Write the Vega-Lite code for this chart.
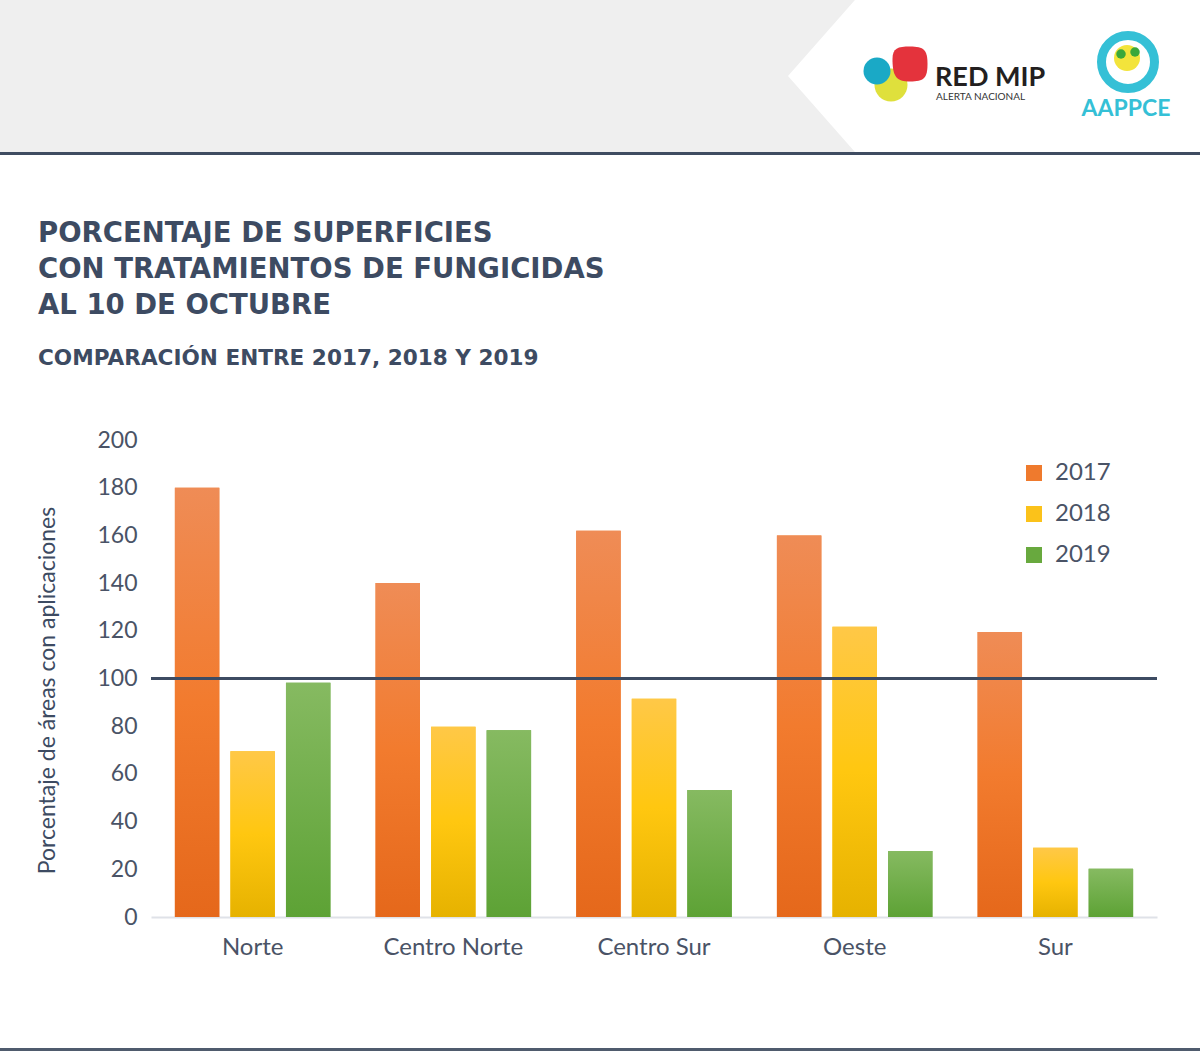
{
  "$schema": "https://vega.github.io/schema/vega-lite/v6.json",
  "width": 1006,
  "height": 477,
  "autosize": {"type": "none"},
  "padding": {"left": 151, "top": 440, "right": 43, "bottom": 137},
  "background": "#ffffff",
  "config": {
    "font": "Lato",
    "view": {"stroke": null},
    "legend": {
      "orient": "none", "legendX": 871, "legendY": 21, "padding": 0,
      "symbolType": "square", "symbolSize": 256, "symbolStrokeWidth": 0,
      "labelFontSize": 24, "labelColor": "#4a5366", "labelFont": "Lato",
      "rowPadding": 17, "labelOffset": 9
    }
  },
  "title": {
    "text": ["PORCENTAJE DE SUPERFICIES", "CON TRATAMIENTOS DE FUNGICIDAS", "AL 10 DE OCTUBRE"],
    "subtitle": "COMPARACIÓN ENTRE 2017, 2018 Y 2019",
    "anchor": "start", "frame": "group", "dx": -113, "dy": 434,
    "font": "DejaVu Sans", "fontSize": 27.5, "fontWeight": "bold", "color": "#3d4b62", "lineHeight": 36,
    "subtitleFont": "DejaVu Sans", "subtitleFontSize": 21.6, "subtitleFontWeight": "bold", "subtitleColor": "#3d4b62",
    "subtitlePadding": 29, "offset": 64
  },
  "resolve": {"scale": {"x": "independent", "y": "independent"}},
  "layer": [
    {
      "data": {"values": [{"k": "banda"}]},
      "mark": {"type": "rect", "color": "#efefef"},
      "encoding": {
        "x": {"field": "k", "type": "nominal", "axis": null, "scale": {"range": [-151, 1049], "paddingInner": 0, "paddingOuter": 0}},
        "y": {"field": "k", "type": "nominal", "axis": null, "scale": {"range": [-440, -288], "paddingInner": 0, "paddingOuter": 0}}
      }
    },
    {
      "data": {"values": [{"k": "chevron"}]},
      "mark": {"type": "point", "filled": true, "color": "#ffffff", "opacity": 1, "strokeWidth": 0, "size": 169744,
               "shape": "M -1 0 L -0.675 -0.369 L 1 -0.369 L 1 0.369 L -0.675 0.369 Z"},
      "encoding": {
        "x": {"field": "k", "type": "nominal", "axis": null, "scale": {"range": [843, 843]}},
        "y": {"field": "k", "type": "nominal", "axis": null, "scale": {"range": [-364, -364]}}
      }
    },
    {
      "data": {"values": [{"k": "linea superior"}]},
      "mark": {"type": "rect", "color": "#3f4c61"},
      "encoding": {
        "x": {"field": "k", "type": "nominal", "axis": null, "scale": {"range": [-151, 1049], "paddingInner": 0, "paddingOuter": 0}},
        "y": {"field": "k", "type": "nominal", "axis": null, "scale": {"range": [-288, -285], "paddingInner": 0, "paddingOuter": 0}}
      }
    },
    {
      "data": {"values": [{"k": "linea inferior"}]},
      "mark": {"type": "rect", "color": "#4f5b6d"},
      "encoding": {
        "x": {"field": "k", "type": "nominal", "axis": null, "scale": {"range": [-151, 1049], "paddingInner": 0, "paddingOuter": 0}},
        "y": {"field": "k", "type": "nominal", "axis": null, "scale": {"range": [608, 611], "paddingInner": 0, "paddingOuter": 0}}
      }
    },
    {
      "data": {"values": [{"k": "amarillo"}]},
      "mark": {"type": "point", "shape": "circle", "filled": true, "opacity": 1, "color": "#dfe03c", "size": 1089},
      "encoding": {
        "x": {"field": "k", "type": "nominal", "axis": null, "scale": {"range": [740, 740]}},
        "y": {"field": "k", "type": "nominal", "axis": null, "scale": {"range": [-355, -355]}}
      }
    },
    {
      "data": {"values": [{"k": "rojo"}]},
      "mark": {"type": "point", "shape": "M -1 -0.3 C -1 -0.9 -0.7 -1 0 -1 C 0.8 -1 1 -0.8 1 0 C 1 0.8 0.8 1 0 1 C -0.8 1 -1 0.7 -1 -0.3 Z", "filled": true, "opacity": 1, "color": "#e4333c", "size": 1225},
      "encoding": {
        "x": {"field": "k", "type": "nominal", "axis": null, "scale": {"range": [759, 759]}},
        "y": {"field": "k", "type": "nominal", "axis": null, "scale": {"range": [-376, -376]}}
      }
    },
    {
      "data": {"values": [{"k": "azul"}]},
      "mark": {"type": "point", "shape": "circle", "filled": true, "opacity": 1, "color": "#1aa9c6", "size": 729},
      "encoding": {
        "x": {"field": "k", "type": "nominal", "axis": null, "scale": {"range": [726, 726]}},
        "y": {"field": "k", "type": "nominal", "axis": null, "scale": {"range": [-369, -369]}}
      }
    },
    {
      "data": {"values": [{"k": "RED MIP"}]},
      "mark": {"type": "text", "align": "left", "baseline": "alphabetic", "font": "Lato", "fontSize": 27, "fontWeight": "bold", "color": "#231f20"},
      "encoding": {
        "text": {"field": "k"},
        "x": {"field": "k", "type": "nominal", "axis": null, "scale": {"range": [784, 784]}},
        "y": {"field": "k", "type": "nominal", "axis": null, "scale": {"range": [-354, -354]}}
      }
    },
    {
      "data": {"values": [{"k": "ALERTA NACIONAL"}]},
      "mark": {"type": "text", "align": "left", "baseline": "alphabetic", "font": "Lato", "fontSize": 10, "color": "#333333"},
      "encoding": {
        "text": {"field": "k"},
        "x": {"field": "k", "type": "nominal", "axis": null, "scale": {"range": [785, 785]}},
        "y": {"field": "k", "type": "nominal", "axis": null, "scale": {"range": [-340, -340]}}
      }
    },
    {
      "data": {"values": [{"k": "aro"}]},
      "mark": {"type": "point", "shape": "circle", "filled": false, "opacity": 1, "fill": "#ffffff", "stroke": "#35c0d6", "strokeWidth": 9, "size": 2809},
      "encoding": {
        "x": {"field": "k", "type": "nominal", "axis": null, "scale": {"range": [977, 977]}},
        "y": {"field": "k", "type": "nominal", "axis": null, "scale": {"range": [-378, -378]}}
      }
    },
    {
      "data": {"values": [{"k": "sol"}]},
      "mark": {"type": "point", "shape": "circle", "filled": true, "opacity": 1, "color": "#f3e43b", "size": 676},
      "encoding": {
        "x": {"field": "k", "type": "nominal", "axis": null, "scale": {"range": [976, 976]}},
        "y": {"field": "k", "type": "nominal", "axis": null, "scale": {"range": [-382, -382]}}
      }
    },
    {
      "data": {"values": [{"k": "hoja izq"}, {"k": "hoja der"}]},
      "mark": {"type": "point", "shape": "circle", "filled": true, "opacity": 1, "color": "#3aa83a", "size": 90},
      "encoding": {
        "x": {"field": "k", "type": "nominal", "axis": null, "scale": {"range": [970, 984], "padding": 0}},
        "y": {"field": "k", "type": "nominal", "axis": null, "scale": {"range": [-386, -388], "padding": 0}}
      }
    },
    {
      "data": {"values": [{"k": "AAPPCE"}]},
      "mark": {"type": "text", "align": "center", "baseline": "alphabetic", "font": "Lato", "fontSize": 23, "fontWeight": "bold", "color": "#35c0d6"},
      "encoding": {
        "text": {"field": "k"},
        "x": {"field": "k", "type": "nominal", "axis": null, "scale": {"range": [975, 975]}},
        "y": {"field": "k", "type": "nominal", "axis": null, "scale": {"range": [-324, -324]}}
      }
    },
    {
      "data": {"values": [
        {"region": "Norte", "year": "2017", "value": 180},
        {"region": "Norte", "year": "2018", "value": 69.5},
        {"region": "Norte", "year": "2019", "value": 98.2},
        {"region": "Centro Norte", "year": "2017", "value": 140},
        {"region": "Centro Norte", "year": "2018", "value": 79.8},
        {"region": "Centro Norte", "year": "2019", "value": 78.3},
        {"region": "Centro Sur", "year": "2017", "value": 162},
        {"region": "Centro Sur", "year": "2018", "value": 91.5},
        {"region": "Centro Sur", "year": "2019", "value": 53.3},
        {"region": "Oeste", "year": "2017", "value": 160},
        {"region": "Oeste", "year": "2018", "value": 121.7},
        {"region": "Oeste", "year": "2019", "value": 27.7},
        {"region": "Sur", "year": "2017", "value": 119.5},
        {"region": "Sur", "year": "2018", "value": 29},
        {"region": "Sur", "year": "2019", "value": 20.2}
      ]},
      "encoding": {
        "x": {"field": "region", "type": "nominal",
              "scale": {"domain": ["Norte", "Centro Norte", "Centro Sur", "Oeste", "Sur"], "paddingInner": 0.225, "paddingOuter": 0.119},
              "axis": {"title": null, "labelAngle": 0, "labelFontSize": 24, "labelColor": "#4a5366", "labelFont": "Lato",
                       "labelPadding": 18, "ticks": false, "domainColor": "#dfe2e8", "domainWidth": 2}},
        "y": {"field": "value", "type": "quantitative",
              "scale": {"domain": [0, 200], "nice": false},
              "axis": {"title": "Porcentaje de áreas con aplicaciones", "titleFontSize": 23, "titleFontWeight": "normal",
                       "titleColor": "#3d4b62", "titleFont": "Lato", "titlePadding": 37, "titleY": 250,
                       "values": [0, 20, 40, 60, 80, 100, 120, 140, 160, 180, 200],
                       "labelFontSize": 23, "labelColor": "#4a5366", "labelFont": "Lato", "labelPadding": 14,
                       "ticks": false, "domain": false, "gridColor": "#dfe2e8", "gridWidth": 2}},
        "xOffset": {"field": "year", "type": "nominal", "scale": {"domain": ["2017", "2018", "2019"], "paddingInner": 0.2, "paddingOuter": 0}}
      },
      "layer": [
        {
          "mark": {"type": "bar"},
          "encoding": {
            "color": {"field": "year", "type": "nominal", "title": null,
                      "scale": {"domain": ["2017", "2018", "2019"], "range": ["#ef7a2d", "#fbc21a", "#68a93e"]}}
          }
        },
        {
          "transform": [{"filter": {"field": "year", "equal": "2017"}}],
          "mark": {"type": "bar", "color": {"gradient": "linear", "x1": 0, "y1": 0, "x2": 0, "y2": 1,
                   "stops": [{"offset": 0, "color": "#ef8c56"}, {"offset": 0.5, "color": "#f27b2e"}, {"offset": 1, "color": "#e5681b"}]}}
        },
        {
          "transform": [{"filter": {"field": "year", "equal": "2018"}}],
          "mark": {"type": "bar", "color": {"gradient": "linear", "x1": 0, "y1": 0, "x2": 0, "y2": 1,
                   "stops": [{"offset": 0, "color": "#ffc847"}, {"offset": 0.5, "color": "#ffc710"}, {"offset": 1, "color": "#e6b200"}]}}
        },
        {
          "transform": [{"filter": {"field": "year", "equal": "2019"}}],
          "mark": {"type": "bar", "color": {"gradient": "linear", "x1": 0, "y1": 0, "x2": 0, "y2": 1,
                   "stops": [{"offset": 0, "color": "#86ba61"}, {"offset": 1, "color": "#5da235"}]}}
        },
        {
          "mark": {"type": "rule", "color": "#3d4b62", "strokeWidth": 3},
          "encoding": {"y": {"datum": 100}, "x": null, "xOffset": null}
        }
      ]
    }
  ]
}
